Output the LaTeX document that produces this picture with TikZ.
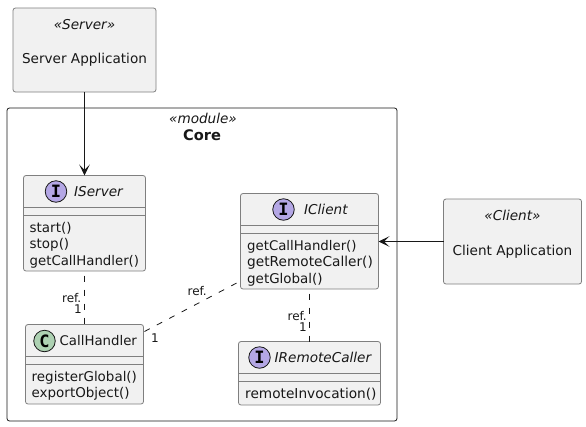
\documentclass[tikz,border=0pt]{standalone}
\usepackage{fontspec}
\setmainfont{DejaVu Sans}
\newfontfamily\spotfont{DejaVu Sans Mono}
\usetikzlibrary{arrows.meta,calc}
\definecolor{boxfill}{HTML}{F1F1F1}
\definecolor{boxline}{HTML}{7F7F7F}
\definecolor{ink}{HTML}{181818}
\definecolor{ifacecol}{HTML}{B4A7E5}
\definecolor{classcol}{HTML}{ADD1B2}
\newcommand{\umlbox}[7]{% name, x1, y1, x2, y2, sep1, sep2
  \node[umlbox, minimum width=#4pt-#2pt, minimum height=#5pt-#3pt] (#1) at ({(#2+#4)/2},{(#3+#5)/2}) {};
  \draw[boxline,line width=.8pt] (#2,#6) -- (#4,#6) (#2,#7) -- (#4,#7);
}
\tikzset{
  umlbox/.style={draw=boxline,fill=boxfill,rounded corners=2.5pt,line width=.8pt,inner sep=0pt,outer sep=0pt},
  plainbox/.style={umlbox},
  modulebox/.style={draw=ink,line width=.8pt,rounded corners=2.5pt,inner sep=0pt,outer sep=0pt},
  txt/.style={font=\fontsize{13.45}{15}\selectfont,text=ink,inner sep=0pt,anchor=base west},
  txtn/.style={txt,font=\fontsize{13.3}{15}\selectfont},
  txtw/.style={txt,font=\fontsize{13.7}{15}\selectfont},
  itxt/.style={font=\fontsize{13.6}{15}\selectfont\itshape,text=ink,inner sep=0pt,anchor=base west},
  ctr/.style={font=\fontsize{13.6}{15}\selectfont,text=ink,inner sep=0pt,anchor=base},
  ster/.style={font=\fontsize{13.6}{15}\selectfont\itshape,text=ink,inner sep=0pt,anchor=base},
  lab/.style={font=\fontsize{12}{13}\selectfont,text=ink,inner sep=0pt,anchor=base east},
  link/.style={ink,line width=.8pt},
  assoc/.style={link,dash pattern=on 6pt off 8pt,dash phase=9.5pt},
  tip/.style={link,-{Stealth[length=11pt,width=10.5pt,inset=5.5pt]}},
  spot/.style={circle,draw=ink,line width=.8pt,minimum size=21.5pt,inner sep=0pt,font=\fontsize{17}{17}\spotfont\bfseries,text=black},
}
\begin{document}
\begin{tikzpicture}[x=1pt,y=-1pt]
\useasboundingbox (0,0) rectangle (586,426);
\fill[white] (0,0) rectangle (586,426);
% module
\node[modulebox,minimum width=390pt,minimum height=313pt] (core) at (202,264.5) {};
\node[ster] (coreS) at (203,123) {«module»};
\node[ctr,font=\fontsize{14.6}{15}\selectfont\bfseries] (coreT) at (202,140) {Core};
% Server
\node[plainbox,minimum width=143pt,minimum height=84pt] (server) at (84.5,50) {};
\node[ster] (serverS) at (84.5,29) {«Server»};
\node[ctr] (serverT) at (84.5,63) {Server Application};
% Client
\node[plainbox,minimum width=138pt,minimum height=85pt] (client) at (512.5,241.5) {};
\node[ster] (clientS) at (512.5,220) {«Client»};
\node[ctr] (clientT) at (512.5,255) {Client Application};
% IServer
\umlbox{iserver}{23.5}{175.5}{145.5}{271}{207.5}{215.5}
\node[spot,fill=ifacecol] (iserverC) at (56,191.5) {I};
\node[itxt] (iserverT) at (74,196) {IServer};
\node[txt] (m1) at (29.5,232) {start()};
\node[txt] (m2) at (29.5,248) {stop()};
\node[txtn] (m3) at (29.5,265) {getCallHandler()};
% CallHandler
\umlbox{handler}{25.5}{324.5}{143.5}{404}{356.5}{364.5}
\node[spot,fill=classcol] (handlerC) at (44.5,341) {C};
\node[txtn] (handlerT) at (59.5,345) {CallHandler};
\node[txt] (m4) at (31.5,381) {registerGlobal()};
\node[txt] (m5) at (31.5,397) {exportObject()};
% IClient
\umlbox{iclient}{240.5}{193.5}{378.5}{289}{225.5}{233.5}
\node[spot,fill=ifacecol] (iclientC) at (283.5,209.5) {I};
\node[itxt] (iclientT) at (304,214) {IClient};
\node[txtn] (m6) at (247,250) {getCallHandler()};
\node[txtw] (m7) at (247,266) {getRemoteCaller()};
\node[txt] (m8) at (247,283) {getGlobal()};
% IRemoteCaller
\umlbox{iremote}{238.5}{341.5}{380.5}{405}{373.5}{381.5}
\node[spot,fill=ifacecol] (iremoteC) at (259.5,357.5) {I};
\node[itxt] (iremoteT) at (274.5,362) {IRemoteCaller};
\node[txtw] (m9) at (245,398) {remoteInvocation()};
% connectors
\draw[tip] (server.south -| iserver.north) -- (iserver.north);
\coordinate (clientL) at (client.west |- 0,241.5);
\coordinate (iclientR) at (iclient.east |- 0,241.5);
\draw[tip] (clientL) -- (iclientR);
\draw[assoc] (iserver.south) -- (handler.north -| iserver.south);
\coordinate (hR) at (143.5,332);
\coordinate (cL) at (240.5,281);
\draw[assoc] (cL) -- (hR);
\coordinate (cB) at (309.5,289);
\coordinate (rT) at (309.5,341.5);
\draw[assoc] (cB) -- (rT);
% labels
\node[lab] (l1) at (81.5,302.5) {ref.};
\node[lab] (l2) at (82,313.5) {1};
\node[lab] (l3) at (207,295) {ref.};
\node[lab] (l4) at (159,342) {1};
\node[lab] (l5) at (307,320) {ref.};
\node[lab] (l6) at (307,331) {1};
\end{tikzpicture}
\end{document}
